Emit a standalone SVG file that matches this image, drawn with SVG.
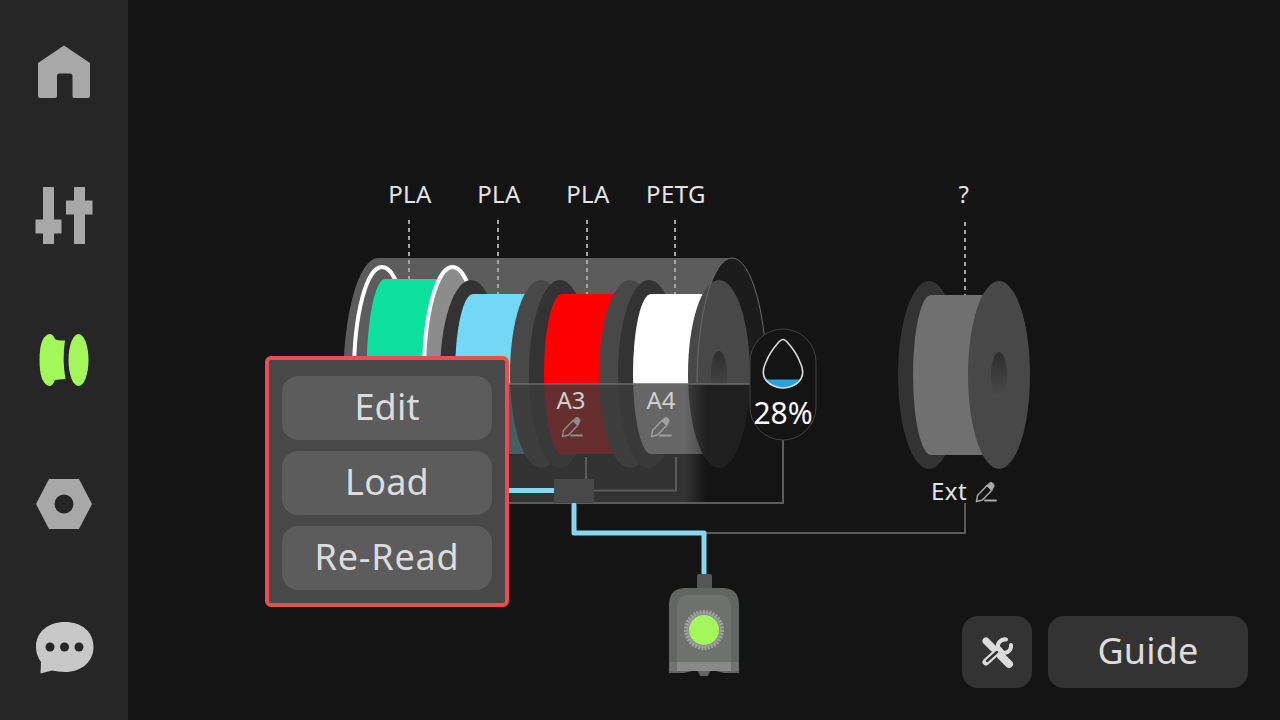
<svg xmlns="http://www.w3.org/2000/svg" xmlns:xlink="http://www.w3.org/1999/xlink" width="1280" height="720" viewBox="0 0 1280 720">
<style>
text{font-family:"Noto Sans","Open Sans","Liberation Sans",sans-serif}
.lbl{font-size:24px;fill:#e4e4e4;text-anchor:middle;letter-spacing:.4px}
.slot{font-size:24px;fill:#cfcfcf;text-anchor:middle}
.btn{font-size:36px;fill:#dcdcdc;text-anchor:middle;letter-spacing:.2px}
.ico{fill:#a8a8a8}
.lf{fill:#333}
.rf{fill:#484848}
.dash{stroke:#a6a6a6;stroke-width:2;stroke-dasharray:4 4;fill:none}
.gray{fill:none;stroke:#5c5c5c;stroke-width:2}
.blue{fill:none;stroke:#86d8f0;stroke-width:5;stroke-linejoin:round;stroke-linecap:round}
.pb{fill:#5c5c5c}
</style>
<defs>
<linearGradient id="shade" gradientUnits="userSpaceOnUse" x1="686" y1="0" x2="706" y2="0">
<stop offset="0" stop-color="#3b3b3b" stop-opacity=".78"/><stop offset="1" stop-color="#141414" stop-opacity=".78"/>
</linearGradient>
<linearGradient id="hole" x1="0" y1="0" x2="0" y2="1">
<stop offset="0" stop-color="#2e2e2e"/><stop offset="1" stop-color="#4a4a4a"/>
</linearGradient>
<g id="pen" fill="none" stroke-linecap="round" stroke-linejoin="round">
<path d="M1.500,19.500 L2.500,13.500 L12,3.500 L17,8 L7.500,18 Z" stroke-width="1.500"/>
<path d="M12,3.500 L14.500,1 Q16,0 17.500,1 L18.800,2.500 Q19.500,4 18.500,5.500 L17,8 Z" fill="currentColor" stroke-width="1"/>
<path d="M10,18.500 H21" stroke-width="1.800"/>
</g>
</defs>
<rect width="1280" height="720" fill="#141414"/>
<g id="sidebar">
<rect width="128" height="720" fill="#262626"/>
<path id="icon-home" class="ico" d="M64,45.500 L90,63 V96 Q90,98 88,98 H74 Q72.500,98 72.500,96 V76 Q72.500,73.500 70,73.500 H59.500 Q57,73.500 57,76 V96 Q57,98 55,98 H40 Q38,98 38,96 V63 Z"/>
<path id="icon-sliders" class="ico" d="M43,187 H54 V219.500 H61.500 V233.500 H54 V244 H43 V233.500 H35.500 V219.500 H43 Z M74,187 H85 V200.500 H92.500 V214.500 H85 V244 H74 V214.500 H66 V200.500 H74 Z"/>
<g id="icon-filament" fill="#a3f75b">
<path d="M49.500,334 Q53,334 55,339 Q57,340.500 65,340.500 Q62,360 65.500,379 Q58,379.500 55,380 Q52.500,386 49.500,386 Q39.500,384 39.500,360 Q39.500,336 49.500,334 Z"/>
<ellipse cx="78.500" cy="360" rx="10" ry="26"/>
</g>
<path id="icon-nut" class="ico" fill-rule="evenodd" d="M49,479 H79 L92,504 L79,529 H49 L36,504 Z M73.500,504 A9.500,9.500 0 1 0 54.500,504 A9.500,9.500 0 1 0 73.500,504 Z"/>
<g id="icon-chat">
<path fill="#c8c8c8" d="M65,622 C82,622 93.500,632 93.500,647 C93.500,662 81,672 65,672 C60,672 56,671 52,670.500 L40.500,673.500 L41,662 C38,658 36,653 36,647 C36,632 48,622 65,622 Z"/>
<circle cx="50" cy="647" r="4.500" fill="#262626"/><circle cx="64.500" cy="647" r="4.500" fill="#262626"/><circle cx="79" cy="647" r="4.500" fill="#262626"/>
</g>
</g>
<g id="tube">
<path d="M378,258 H735 V384 H343 A35,126 0 0 1 378,258 Z" fill="#5c5c5c"/>
<path d="M697,384 A35,126 0 0 1 767,384 Z" fill="#1c1c1c"/>
</g>
<g id="spool-1">
<ellipse cx="382" cy="374" rx="28" ry="107" fill="#5c5c5c" stroke="#fff" stroke-width="4"/>
<path d="M385,279 H450 V469 H385 A18.500,95 0 0 1 385,279 Z" fill="#0ee09e"/>
<ellipse cx="452.500" cy="374" rx="28.500" ry="107" fill="#8c8c8c" stroke="#fff" stroke-width="4"/>
</g>
<g id="spool-2">
<ellipse class="lf" cx="471" cy="374" rx="31" ry="94"/>
<path d="M473,294 H531 V454 H473 A18,80 0 0 1 473,294 Z" fill="#72d8f6"/>
<ellipse class="rf" cx="541" cy="374" rx="31" ry="94"/>
</g>
<g id="spool-3">
<ellipse class="lf" cx="560" cy="374" rx="31" ry="94"/>
<path d="M562,294 H620 V454 H562 A18,80 0 0 1 562,294 Z" fill="#f00"/>
<ellipse class="rf" cx="630" cy="374" rx="31" ry="94"/>
</g>
<g id="spool-4">
<ellipse class="lf" cx="649" cy="374" rx="31" ry="94"/>
<path d="M651,294 H709 V454 H651 A18,80 0 0 1 651,294 Z" fill="#fff"/>
<ellipse class="rf" cx="719" cy="374" rx="31" ry="94"/>
<ellipse cx="719" cy="374" rx="8" ry="23" fill="url(#hole)"/>
</g>
<path d="M697,384 A35,126 0 0 1 767,384" fill="none" stroke="#6a6a6a" stroke-width="1"/>
<g id="shade-panel">
<rect x="400" y="384" width="350" height="119" fill="url(#shade)"/>
<path d="M400,384 H750" stroke="#6a6a6a" stroke-width="1.500"/>
</g>
<g id="connectors">
<path class="gray" d="M586,457 V480 M594,490.500 H676 V457 M500,503 H783 V440 M706,533 H965 V503"/>
<path class="blue" d="M500,490.500 H556"/>
<path class="blue" d="M574,505 V533 H704 V576"/>
<path class="dash" d="M409,220 V279 M498,220 V294 M587,220 V294 M675,220 V294 M965,222 V295"/>
</g>
<rect id="hub" x="554" y="479" width="40" height="24" fill="#484848"/>
<g id="labels">
<text class="lbl" x="410" y="203">PLA</text>
<text class="lbl" x="499" y="203">PLA</text>
<text class="lbl" x="588" y="203">PLA</text>
<text class="lbl" x="676" y="203">PETG</text>
<text class="lbl" x="964" y="203">?</text>
</g>
<g id="slot-a3">
<text class="slot" x="571" y="409">A3</text>
<use xlink:href="#pen" href="#pen" x="561" y="417" stroke="#8c8c8c" color="#8c8c8c"/>
</g>
<g id="slot-a4">
<text class="slot" x="661" y="409">A4</text>
<use xlink:href="#pen" href="#pen" x="650" y="417" stroke="#a0a0a0" color="#a0a0a0"/>
</g>
<g id="humidity">
<rect x="750" y="329" width="66" height="111" rx="33" fill="#141414" stroke="#444" stroke-width="1"/>
<path d="M764.500,379.500 H801.500 Q800,382 796,384 Q783,392 770,384 Q766,382 764.500,379.500 Z" fill="#29a3dc"/>
<path d="M783,339.500 Q785,339.500 788,343 Q796,352 800,362 Q807,376 796,384 Q783,392 770,384 Q759,376 766,362 Q770,352 778,343 Q781,339.500 783,339.500 Z" fill="none" stroke="#dcdcdc" stroke-width="1.600"/>
<text x="783" y="424" font-size="30" fill="#fff" text-anchor="middle">28%</text>
</g>
<g id="spool-ext">
<ellipse class="lf" cx="929" cy="375" rx="31" ry="94"/>
<path d="M931,295 H990 V455 H931 A18,80 0 0 1 931,295 Z" fill="#707070"/>
<ellipse class="rf" cx="999" cy="375" rx="31" ry="94"/>
<ellipse cx="999" cy="375" rx="8" ry="23" fill="url(#hole)"/>
<text class="lbl" x="949" y="500">Ext</text>
<use xlink:href="#pen" href="#pen" x="975" y="482" stroke="#a8a8a8" color="#a8a8a8"/>
</g>
<g id="extruder">
<rect x="697" y="574" width="15" height="16" rx="2" fill="#555"/>
<path d="M684,588 H724 Q739,589 739,605 V673 L724,673 L716,671 H710 L708,676 H700 L698,671 H692 L684,673 L669,673 V605 Q669,589 684,588 Z" fill="#626662"/>
<path d="M688,595 H720 Q731,596 731,608 V662 H677 V608 Q677,596 688,595 Z" fill="#6e726e"/>
<rect x="669" y="662" width="70" height="9" fill="#727272"/>
<rect x="677" y="662" width="54" height="9" fill="#8a8a8a"/>
<circle cx="704" cy="630" r="18" fill="#8e8e8e" stroke="#a0a0a0" stroke-width="4" stroke-dasharray="2 1.200"/>
<circle cx="704" cy="630" r="15" fill="#a3f75b"/>
</g>
<g id="popup">
<rect x="267" y="358" width="240" height="247" rx="4" fill="#484848" stroke="#e85050" stroke-width="4"/>
<rect x="282" y="376" width="210" height="64" rx="16" class="pb"/>
<rect x="282" y="451" width="210" height="64" rx="16" class="pb"/>
<rect x="282" y="526" width="210" height="64" rx="16" class="pb"/>
<text class="btn" x="387" y="420">Edit</text>
<text class="btn" x="387" y="495">Load</text>
<text class="btn" x="387" y="570" style="letter-spacing:.8px">Re-Read</text>
</g>
<g id="tool-button">
<rect x="962" y="616" width="70" height="72" rx="16" fill="#333"/>
<g fill="none" stroke="#dcdcdc" stroke-linecap="round">
<path d="M986,641 L993,648" stroke-width="7"/>
<path d="M994,649 L1002,657" stroke-width="3"/>
<path d="M1001,656 L1009,664" stroke-width="8"/>
<path d="M999,650 L986,662" stroke-width="7"/>
<path d="M1006,639.500 A7,7 0 0 0 998,648 L1004,653 A7,7 0 0 0 1011,645" stroke-width="4"/>
</g>
<path d="M997,652 L987,661" stroke="#333" stroke-width="2.500" stroke-linecap="round"/>
</g>
<g id="guide-button">
<rect x="1048" y="616" width="200" height="72" rx="16" fill="#333"/>
<text class="btn" x="1148" y="664">Guide</text>
</g>
</svg>
